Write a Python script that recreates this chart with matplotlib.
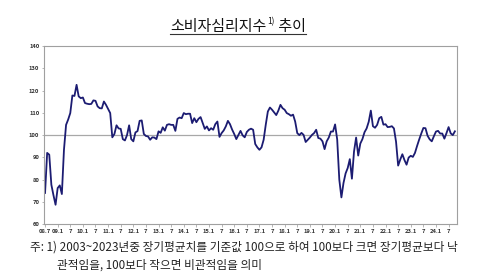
import numpy as np
import matplotlib
matplotlib.use('Agg')
import matplotlib.pyplot as plt
from matplotlib.lines import Line2D

plt.rcParams['font.family'] = ['Noto Sans CJK KR', 'DejaVu Sans']

# monthly index, 2008.7 ~ 2024.10
ccsi_2008 = [74.0, 92.0, 91.2, 77.7, 73.0, 68.7]
ccsi_2009 = [76.2, 77.4, 73.5, 93.4, 104.6, 107.0, 109.9, 117.8, 117.6, 122.6, 117.4, 116.6]
ccsi_2010 = [116.9, 114.4, 114.1, 113.9, 114.0, 115.6, 115.4, 112.9, 112.1, 112.0, 115.1, 113.6]
ccsi_2011 = [111.8, 109.9, 99.0, 100.5, 104.4, 103.0, 102.8, 98.2, 97.6, 100.0, 104.4, 98.2]
ccsi_2012 = [97.2, 101.2, 101.8, 106.4, 106.6, 100.5, 99.6, 99.4, 97.9, 99.0, 98.9, 98.2]
ccsi_2013 = [101.7, 101.0, 103.5, 102.0, 104.6, 104.9, 104.6, 104.6, 101.9, 107.3, 107.9, 107.6]
ccsi_2014 = [109.9, 109.4, 109.6, 109.6, 105.4, 107.6, 105.8, 107.3, 108.1, 105.4, 102.8, 103.9]
ccsi_2015 = [102.1, 103.1, 102.4, 104.9, 106.1, 99.2, 100.9, 102.1, 103.9, 106.4, 104.9, 102.5]
ccsi_2016 = [100.5, 98.2, 100.1, 101.9, 99.9, 99.0, 101.4, 102.4, 102.9, 102.4, 96.0, 94.5]
ccsi_2017 = [93.4, 94.5, 97.9, 104.6, 110.6, 112.4, 111.4, 110.2, 109.0, 111.0, 113.6, 112.1]
ccsi_2018 = [111.4, 109.9, 109.4, 108.7, 109.2, 106.1, 100.9, 100.0, 101.0, 100.1, 96.9, 97.9]
ccsi_2019 = [98.9, 100.1, 100.9, 102.4, 98.7, 98.4, 97.2, 93.7, 97.2, 98.9, 101.6, 101.6]
ccsi_2020 = [104.8, 98.0, 80.0, 72.0, 78.5, 82.8, 85.2, 89.2, 80.4, 92.6, 98.9, 90.8]
ccsi_2021 = [96.2, 98.2, 101.3, 103.0, 106.0, 111.0, 104.0, 103.3, 104.6, 107.6, 108.2, 104.7]
ccsi_2022 = [104.9, 103.6, 103.7, 104.0, 103.0, 97.0, 86.3, 89.0, 91.4, 88.8, 86.7, 89.9]
ccsi_2023 = [90.7, 90.2, 92.0, 95.1, 98.0, 100.7, 103.2, 103.1, 99.7, 98.1, 97.2, 99.5]
ccsi_2024 = [101.6, 101.9, 100.7, 100.7, 98.4, 100.9, 103.6, 100.8, 100.0, 101.7]

x_labels = ['08.7', '09.1', '7', '10.1', '7', '11.1', '7', '12.1', '7', '13.1', '7',
            '14.1', '7', '15.1', '7', '16.1', '7', '17.1', '7', '18.1', '7', '19.1', '7',
            '20.1', '7', '21.1', '7', '22.1', '7', '23.1', '7', '24.1', '7']
y_ticks = [60, 70, 80, 90, 100, 110, 120, 130, 140]

title_main = '소비자심리지수'
title_sup = '1)'
title_tail = ' 추이'
note_1 = '주: 1) 2003~2023년중 장기평균치를 기준값 100으로 하여 100보다 크면 장기평균보다 낙'
note_2 = '관적임을, 100보다 작으면 비관적임을 의미'

values = np.array(ccsi_2008 + ccsi_2009 + ccsi_2010 + ccsi_2011 + ccsi_2012 + ccsi_2013 +
                  ccsi_2014 + ccsi_2015 + ccsi_2016 + ccsi_2017 + ccsi_2018 + ccsi_2019 +
                  ccsi_2020 + ccsi_2021 + ccsi_2022 + ccsi_2023 + ccsi_2024)
months = np.arange(len(values))

fig = plt.figure(figsize=(5.0, 2.76), dpi=100)
ax = fig.add_axes([0.088, 0.188, 0.826, 0.645])

ax.axhline(100, color='#a8a8a8', lw=0.9, zorder=1)
ax.plot(months, values, color='#1c1c72', lw=1.3, zorder=2)

ax.set_xlim(-0.5, 196)
ax.set_ylim(60, 140)
ax.set_yticks(y_ticks)
ax.set_yticklabels([str(v) for v in y_ticks])
ax.set_xticks(np.arange(0, 6 * len(x_labels), 6))
ax.set_xticklabels(x_labels)
ax.tick_params(axis='both', labelsize=4.2, colors='#333333', length=1.8, width=0.5, pad=1.5)
ax.tick_params(axis='both', color='#999999')
for lab in ax.get_xticklabels() + ax.get_yticklabels():
    lab.set_fontweight('bold')
for sp in ax.spines.values():
    sp.set_color('#a0a0a0')
    sp.set_linewidth(0.8)

# title with superscript and underline
fig.canvas.draw()
r = fig.canvas.get_renderer()
t1 = fig.text(170 / 500, 1 - 31 / 276, title_main, fontsize=10.8, color='#111111', va='baseline')
bb1 = t1.get_window_extent(r)
t2 = fig.text(bb1.x1 / 500 + 0.002, 1 - 24 / 276, title_sup, fontsize=6, color='#111111', va='baseline')
bb2 = t2.get_window_extent(r)
t3 = fig.text(bb2.x1 / 500, 1 - 31 / 276, title_tail, fontsize=10.8, color='#111111', va='baseline')
bb3 = t3.get_window_extent(r)
fig.add_artist(Line2D([bb1.x0 / 500, bb3.x1 / 500], [1 - 34 / 276, 1 - 34 / 276],
                      color='#333333', lw=0.8, transform=fig.transFigure))

fig.text(30 / 500, 1 - 251 / 276, note_1, fontsize=8.4, color='#222222', va='baseline')
fig.text(57 / 500, 1 - 269 / 276, note_2, fontsize=8.4, color='#222222', va='baseline')

fig.savefig('out.png', dpi=100)
